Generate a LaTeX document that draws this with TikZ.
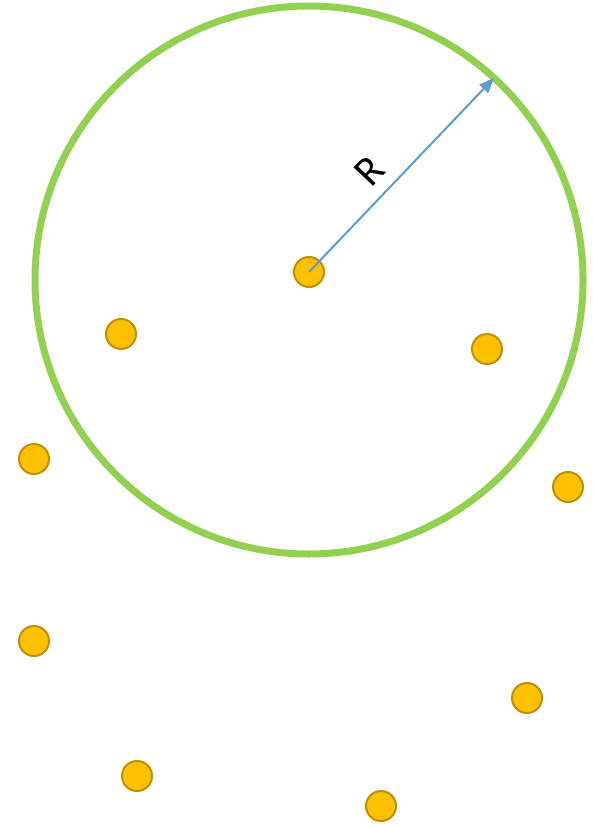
\documentclass[tikz,border=0pt]{standalone}
\usepackage{fontspec}
\setmainfont{Carlito}
\usetikzlibrary{arrows.meta}
\definecolor{ringgreen}{HTML}{92D050}
\definecolor{dotfill}{HTML}{FFC000}
\definecolor{dotline}{HTML}{BF9000}
\definecolor{arrowblue}{HTML}{5B9BD5}
\tikzset{
  dot/.style={circle, fill=dotfill, draw=dotline, line width=2pt, minimum size=30pt, inner sep=0pt},
  ring/.style={draw=ringgreen, line width=7pt},
  radius arrow/.style={draw=arrowblue, line width=2pt, -{Triangle[length=15pt,width=12pt]}},
}
\begin{document}
\begin{tikzpicture}[x=1pt,y=1pt]
\useasboundingbox (0,0) rectangle (592,-829);
\draw[ring] (309,-280) circle (274);
\node[dot] (c) at (309,-272) {};
\node[dot] (d1) at (121,-334) {};
\node[dot] (d2) at (487,-349) {};
\node[dot] (d3) at (34,-459) {};
\node[dot] (d4) at (568,-487) {};
\node[dot] (d5) at (34,-641) {};
\node[dot] (d6) at (527,-698) {};
\node[dot] (d7) at (137,-776) {};
\node[dot] (d8) at (381,-806) {};
\coordinate (rim) at (494,-78);
\draw[radius arrow] (c.center) -- (rim);
\node[rotate=46.7, font=\fontsize{42}{46}\selectfont] (r) at (370,-171) {R};
\end{tikzpicture}
\end{document}
